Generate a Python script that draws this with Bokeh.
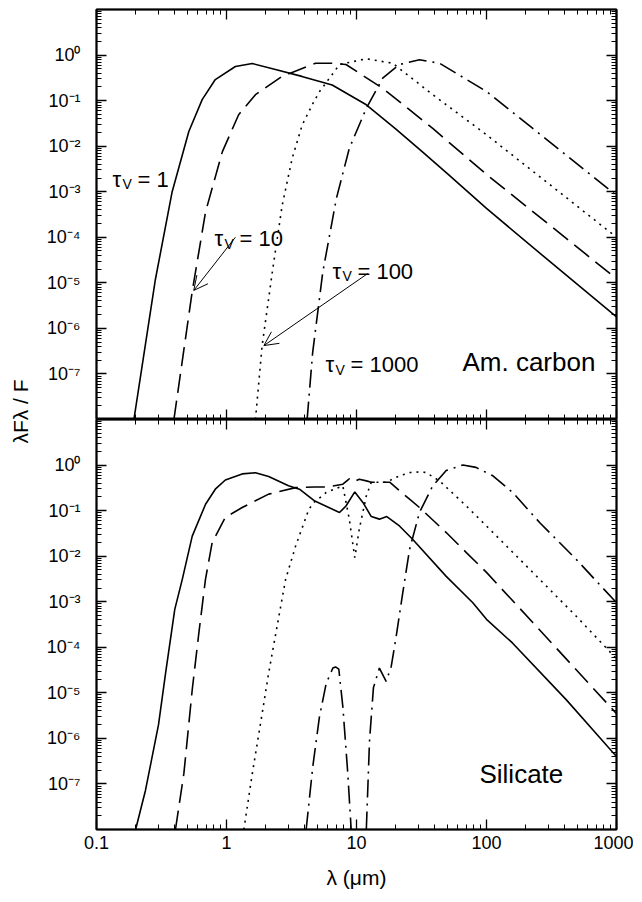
import math
from bokeh.plotting import figure
from bokeh.models import FixedTicker, LogAxis, Label, Arrow, OpenHead, Range1d
from bokeh.layouts import row, column
from bokeh.embed import file_html
from bokeh.resources import INLINE

NaN = float("nan")
FONT = "Liberation Sans"

# ---------------- axes ----------------
X_TICKS = [0.1, 1.0, 10.0, 100.0, 1000.0]
X_TICK_LABELS = ["0.1", "1", "10", "100", "1000"]
Y_TICKS = [1e0, 1e-1, 1e-2, 1e-3, 1e-4, 1e-5, 1e-6, 1e-7]
Y_TICK_LABELS = ["10⁰", "10⁻¹", "10⁻²", "10⁻³", "10⁻⁴", "10⁻⁵", "10⁻⁶", "10⁻⁷"]
X_MINOR = [m * 10.0 ** k for k in range(-1, 3) for m in range(2, 10)]
Y_MINOR = [m * 10.0 ** k for k in range(-8, 1) for m in range(2, 10)]

# ---------------- data: amorphous carbon (top) ----------------
carbon_t1_lam = [0.194, 0.284, 0.382, 0.513, 0.65, 0.82, 1.17, 1.58, 2.38, 3.8, 6.5, 11.9, 20, 32, 50, 100, 300, 1000]
carbon_t1_flux = [1e-8, 1.2e-5, 1.0e-3, 2.1e-2, 1.05e-1, 2.9e-1, 5.6e-1, 6.5e-1, 4.8e-1, 3.4e-1, 2.2e-1, 8.1e-2,
                  2.4e-2, 7.6e-3, 2.5e-3, 4.3e-4, 3.1e-5, 1.8e-6]

carbon_t10_lam = [0.394, 0.544, 0.69, 0.93, 1.24, 1.67, 2.68, 4.84, 6.6, 8.3, 15.9, 38.6, 100, 1000]
carbon_t10_flux = [1e-8, 6.3e-6, 3.6e-4, 7.6e-3, 4.9e-2, 1.35e-1, 3.4e-1, 6.6e-1, 6.6e-1, 6.2e-1, 1.86e-1,
                   2.45e-2, 2.4e-3, 1.23e-5]

carbon_t100_lam = [1.67, 1.88, 2.25, 2.68, 3.2, 3.82, 4.7, 5.2, 7.4, 11.9, 19, 38.6, 100, 400, 1000]
carbon_t100_flux = [1e-8, 4.2e-7, 1.7e-5, 5.0e-4, 5.4e-3, 2.9e-2, 9.5e-2, 1.58e-1, 6.2e-1, 8.3e-1, 6.6e-1,
                    1.35e-1, 1.78e-2, 7.9e-4, 1.0e-4]

carbon_t1000_lam = [4.17, 4.6, 5.5, 7.0, 8.8, 11.9, 15.9, 21.4, 30.5, 43.6, 100, 227, 1000]
carbon_t1000_flux = [1e-8, 2.95e-7, 1.7e-5, 7.1e-4, 8.9e-3, 6.8e-2, 3.1e-1, 6.2e-1, 7.9e-1, 6.6e-1, 1.58e-1,
                     2.45e-2, 8.3e-4]

# ---------------- data: silicate (bottom) ----------------
sil_t1_lam = [0.2, 0.238, 0.30, 0.34, 0.40, 0.457, 0.545, 0.69, 0.82, 0.98, 1.32, 1.67, 2.11, 3.0, 3.64, 4.78,
              7.4, 8.3, 9.7, 11.2, 13, 15, 17.1, 21.4, 27, 49, 78.5, 100, 159, 410, 1000]
sil_t1_flux = [1e-8, 7.2e-8, 2.0e-6, 2.7e-5, 6.8e-4, 3.1e-3, 2.75e-2, 1.38e-1, 2.95e-1, 4.7e-1, 6.4e-1, 6.8e-1,
               5.6e-1, 3.5e-1, 2.95e-1, 1.62e-1, 9.1e-2, 1.26e-1, 2.57e-1, 1.51e-1, 7.4e-2, 6.5e-2, 7.4e-2,
               4.6e-2, 2.35e-2, 3.6e-3, 9.5e-4, 4.1e-4, 1.23e-4, 7.1e-6, 4.0e-7]

sil_t10_lam = [0.405, 0.47, 0.545, 0.612, 0.689, 0.776, 0.98, 1.32, 2.11, 3.4, 4.78, 6.0, 7.85, 8.8, 9.5, 10.5,
               11.9, 13, 15, 18, 25.6, 30.5, 49, 70, 100, 227, 490, 1000]
sil_t10_flux = [1e-8, 1.7e-7, 1.17e-5, 2.0e-4, 3.1e-3, 2.0e-2, 7.1e-2, 1.17e-1, 2.3e-1, 3.2e-1, 3.3e-1, 3.3e-1,
                3.8e-1, 5.0e-1, 4.3e-1, 4.9e-1, 4.5e-1, 4.2e-1, 4.2e-1, 4.2e-1, 1.78e-1, 1.17e-1, 3.3e-2,
                1.2e-2, 4.4e-3, 3.5e-4, 3.2e-5, 3.5e-6]

sil_t100_lam = [1.36, 1.58, 1.88, 2.11, 2.45, 2.85, 3.4, 4.3, 4.7, 5.85, 7.85, 8.8, 9.7, 10.5, 11.9, 13, 16.9,
                21.4, 27, 34, 43.5, 70, 100, 227, 490, 1000]
sil_t100_flux = [1e-8, 1.7e-7, 3.5e-6, 2.7e-5, 2.9e-4, 3.1e-3, 1.66e-2, 1.07e-1, 1.51e-1, 2.5e-1, 3.5e-1, 6.5e-2,
                 9.3e-3, 3.9e-2, 2.1e-1, 4.2e-1, 4.2e-1, 5.8e-1, 7.1e-1, 6.9e-1, 4.5e-1, 1.26e-1, 4.6e-2,
                 4.4e-3, 4.8e-4, 5.6e-5]

sil_t1000_lam = [4.1, 4.61, 5.19, 5.85, 6.58, 6.9, 7.31, 7.85, 8.57, 9.1, NaN, 11.9, 12.6, 13.5, 15, 16.9, 18.5,
                 20.2, 22.7, 25.6, 30.5, 38.6, 49, 65.8, 83, 112, 159, 256, 490, 1000]
sil_t1000_flux = [1e-8, 2.4e-7, 3.0e-6, 1.62e-5, 3.5e-5, 3.7e-5, 3.3e-5, 5.0e-6, 1.7e-7, 1e-8, NaN, 1e-8, 9.1e-7,
                  1.3e-5, 3.5e-5, 1.78e-5, 3.8e-5, 1.74e-4, 1.58e-3, 1.41e-2, 9.1e-2, 3.5e-1, 7.6e-1, 1.0,
                  8.9e-1, 5.8e-1, 2.5e-1, 5.5e-2, 8.5e-3, 9.5e-4]

SOLID, DASHED, DOTTED, DASHDOT = "solid", "19 8", "2 5", "18 6 2 6"


def style_axis(ax, ticks, minor, labels=None, standoff=0):
    ax.ticker = FixedTicker(ticks=ticks, minor_ticks=minor)
    ax.axis_line_color = "black"
    ax.axis_line_width = 1.5
    ax.major_tick_in = 10
    ax.major_tick_out = 0
    ax.minor_tick_in = 5
    ax.minor_tick_out = 0
    ax.major_tick_line_color = "black"
    ax.major_tick_line_width = 1.3
    ax.minor_tick_line_color = "black"
    ax.minor_tick_line_width = 1
    if labels is None:
        ax.major_label_overrides = {t: "" for t in ticks}
        ax.major_label_text_font_size = "1px"
        ax.major_label_standoff = 0
    else:
        ax.major_label_overrides = dict(zip(ticks, labels))
        ax.major_label_text_font = FONT
        ax.major_label_text_font_size = "18px"
        ax.major_label_text_color = "black"
        ax.major_label_standoff = standoff


def make_panel(top, bottom, show_x):
    p = figure(frame_width=520, frame_height=410, x_axis_type="log", y_axis_type="log",
               x_range=Range1d(0.1, 1000), y_range=Range1d(1e-8, 1e1),
               output_backend="svg", toolbar_location=None,
               min_border_left=62, min_border_right=17, min_border_top=top, min_border_bottom=bottom,
               background_fill_color="white", border_fill_color="white",
               outline_line_color="black", outline_line_width=2)
    p.xgrid.visible = False
    p.ygrid.visible = False
    above = LogAxis()
    right = LogAxis()
    p.add_layout(above, "above")
    p.add_layout(right, "right")
    style_axis(p.below[0], X_TICKS, X_MINOR, X_TICK_LABELS if show_x else None, standoff=6)
    style_axis(above, X_TICKS, X_MINOR)
    style_axis(p.left[0], Y_TICKS, Y_MINOR, Y_TICK_LABELS, standoff=16)
    style_axis(right, Y_TICKS, Y_MINOR)
    if show_x:
        ax = p.below[0]
        ax.axis_label = "λ (μm)"
        ax.axis_label_text_font = FONT
        ax.axis_label_text_font_size = "21px"
        ax.axis_label_text_font_style = "normal"
        ax.axis_label_text_color = "black"
        ax.axis_label_standoff = 14
    return p


def add_curves(p, series):
    for lam, flux, dash in series:
        p.line(lam, flux, line_color="black", line_width=1.6, line_dash=dash)


def text(p, x, y, s, size, dx=0, dy=0):
    p.add_layout(Label(x=x, y=y, x_offset=dx, y_offset=dy, text=s, text_font=FONT, text_font_size=size,
                       text_color="black", text_align="left", text_baseline="alphabetic"))


def tau_label(p, x, y, val):
    text(p, x, y, "τ", "22px")
    text(p, x, y, "V", "14px", dx=10, dy=-5)
    text(p, x, y, "= " + val, "22px", dx=25)


def arrow(p, x0, y0, x1, y1):
    p.add_layout(Arrow(end=OpenHead(size=14, line_width=1, line_color="black"),
                       x_start=x0, y_start=y0, x_end=x1, y_end=y1, line_width=1, line_color="black"))


top = make_panel(9, 0, False)
add_curves(top, [(carbon_t1_lam, carbon_t1_flux, SOLID), (carbon_t10_lam, carbon_t10_flux, DASHED),
                 (carbon_t100_lam, carbon_t100_flux, DOTTED), (carbon_t1000_lam, carbon_t1000_flux, DASHDOT)])
tau_label(top, 0.133, 1.86e-3, "1")
tau_label(top, 0.81, 9.3e-5, "10")
tau_label(top, 6.53, 1.8e-5, "100")
tau_label(top, 5.78, 1.6e-7, "1000")
arrow(top, 1.17, 1.0e-4, 0.56, 6.8e-6)
arrow(top, 12.2, 1.6e-5, 1.94, 4.2e-7)
text(top, 65.3, 1.82e-7, "Am. carbon", "26px")

bot = make_panel(0, 58, True)
add_curves(bot, [(sil_t1_lam, sil_t1_flux, SOLID), (sil_t10_lam, sil_t10_flux, DASHED),
                 (sil_t100_lam, sil_t100_flux, DOTTED), (sil_t1000_lam, sil_t1000_flux, DASHDOT)])
text(bot, 88.3, 1.65e-7, "Silicate", "26px")

lab = figure(width=34, height=880, x_range=Range1d(0, 1), y_range=Range1d(0, 1),
             output_backend="svg", toolbar_location=None, min_border=0,
             x_axis_location=None, y_axis_location=None, outline_line_color=None)
lab.grid.visible = False
lab.add_layout(Label(x=0.59, y=0.533, text="λFλ / F", angle=math.pi / 2, text_align="center",
                     text_baseline="middle", text_font=FONT, text_font_size="21px", text_color="black"))

layout = row(lab, column(top, bot))
open("out.html", "w").write(file_html(layout, INLINE))
